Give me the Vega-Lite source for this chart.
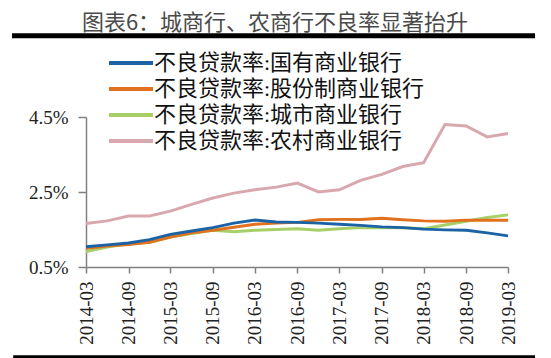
{
  "$schema": "https://vega.github.io/schema/vega-lite/v6.json",
  "width": 422,
  "height": 150,
  "autosize": {"type": "none"},
  "padding": {"left": 86, "top": 117, "right": 43, "bottom": 91},
  "background": "white",
  "title": {
    "text": "图表6：城商行、农商行不良率显著抬升",
    "font": "Noto Sans CJK SC",
    "fontSize": 22,
    "fontWeight": "normal",
    "color": "#4a4a4a",
    "anchor": "middle",
    "frame": "group",
    "offset": -2,
    "dx": -22
  },
  "config": {"view": {"stroke": null}},
  "layer": [
    {
      "data": {
        "values": [
          {"date": "2014-03-01", "国有": 1.04, "股份制": 1.00, "城市": 0.91, "农村": 1.66},
          {"date": "2014-06-01", "国有": 1.09, "股份制": 1.06, "城市": 1.03, "农村": 1.73},
          {"date": "2014-09-01", "国有": 1.14, "股份制": 1.10, "城市": 1.12, "农村": 1.86},
          {"date": "2014-12-01", "国有": 1.23, "股份制": 1.16, "城市": 1.16, "农村": 1.86},
          {"date": "2015-03-01", "国有": 1.37, "股份制": 1.30, "城市": 1.30, "农村": 1.99},
          {"date": "2015-06-01", "国有": 1.46, "股份制": 1.41, "城市": 1.39, "农村": 2.17},
          {"date": "2015-09-01", "国有": 1.55, "股份制": 1.48, "城市": 1.48, "农村": 2.34},
          {"date": "2015-12-01", "国有": 1.67, "股份制": 1.56, "城市": 1.44, "农村": 2.47},
          {"date": "2016-03-01", "国有": 1.75, "股份制": 1.64, "城市": 1.48, "农村": 2.56},
          {"date": "2016-06-01", "国有": 1.70, "股份制": 1.67, "城市": 1.50, "农村": 2.63},
          {"date": "2016-09-01", "国有": 1.69, "股份制": 1.69, "城市": 1.52, "农村": 2.74},
          {"date": "2016-12-01", "国有": 1.67, "股份制": 1.76, "城市": 1.48, "农村": 2.50},
          {"date": "2017-03-01", "国有": 1.64, "股份制": 1.77, "城市": 1.52, "农村": 2.56},
          {"date": "2017-06-01", "国有": 1.61, "股份制": 1.77, "城市": 1.55, "农村": 2.81},
          {"date": "2017-09-01", "国有": 1.57, "股份制": 1.80, "城市": 1.55, "农村": 2.97},
          {"date": "2017-12-01", "国有": 1.55, "股份制": 1.76, "城市": 1.55, "农村": 3.18},
          {"date": "2018-03-01", "国有": 1.51, "股份制": 1.73, "城市": 1.52, "农村": 3.28},
          {"date": "2018-06-01", "国有": 1.49, "股份制": 1.72, "城市": 1.62, "农村": 4.30},
          {"date": "2018-09-01", "国有": 1.48, "股份制": 1.75, "城市": 1.72, "农村": 4.26},
          {"date": "2018-12-01", "国有": 1.41, "股份制": 1.75, "城市": 1.82, "农村": 3.97},
          {"date": "2019-03-01", "国有": 1.33, "股份制": 1.75, "城市": 1.89, "农村": 4.06}
        ]
      },
      "transform": [
        {"fold": ["农村", "城市", "股份制", "国有"], "as": ["bank", "value"]},
        {"lookup": "bank", "from": {"data": {"values": [
          {"bank": "国有", "series": "不良贷款率:国有商业银行"},
          {"bank": "股份制", "series": "不良贷款率:股份制商业银行"},
          {"bank": "城市", "series": "不良贷款率:城市商业银行"},
          {"bank": "农村", "series": "不良贷款率:农村商业银行"}
        ]}, "key": "bank", "fields": ["series"]}}
      ],
      "mark": {"type": "line", "strokeWidth": 3},
      "encoding": {
        "x": {
          "field": "date",
          "type": "temporal",
          "scale": {"type": "utc", "domain": [{"year": 2014, "month": 3, "date": 1, "utc": true}, {"year": 2019, "month": 3, "date": 1, "utc": true}], "nice": false},
          "axis": {
            "title": null,
            "grid": false,
            "values": [
              {"year": 2014, "month": 3, "date": 1, "utc": true},
              {"year": 2014, "month": 9, "date": 1, "utc": true},
              {"year": 2015, "month": 3, "date": 1, "utc": true},
              {"year": 2015, "month": 9, "date": 1, "utc": true},
              {"year": 2016, "month": 3, "date": 1, "utc": true},
              {"year": 2016, "month": 9, "date": 1, "utc": true},
              {"year": 2017, "month": 3, "date": 1, "utc": true},
              {"year": 2017, "month": 9, "date": 1, "utc": true},
              {"year": 2018, "month": 3, "date": 1, "utc": true},
              {"year": 2018, "month": 9, "date": 1, "utc": true},
              {"year": 2019, "month": 3, "date": 1, "utc": true}
            ],
            "labelExpr": "utcFormat(datum.value, '%Y-%m')",
            "labelAngle": -90,
            "labelFont": "Liberation Serif",
            "labelFontSize": 19,
            "labelColor": "#222222",
            "labelPadding": 8,
            "labelFlush": false,
            "labelOverlap": false,
            "domainColor": "#808080",
            "domainWidth": 1.5,
            "tickColor": "#808080",
            "tickWidth": 1.5,
            "tickSize": 6
          }
        },
        "y": {
          "field": "value",
          "type": "quantitative",
          "scale": {"domain": [0.5, 4.5], "nice": false, "zero": false},
          "axis": {
            "title": null,
            "grid": false,
            "values": [0.5, 2.5, 4.5],
            "labelExpr": "format(datum.value, '.1f') + '%'",
            "labelFont": "Liberation Serif",
            "labelFontSize": 19,
            "labelColor": "#222222",
            "labelPadding": 10,
            "domainColor": "#808080",
            "domainWidth": 1.5,
            "tickColor": "#808080",
            "tickWidth": 1.5,
            "tickSize": 8
          }
        },
        "color": {
          "field": "series",
          "type": "nominal",
          "scale": {
            "domain": ["不良贷款率:国有商业银行", "不良贷款率:股份制商业银行", "不良贷款率:城市商业银行", "不良贷款率:农村商业银行"],
            "range": ["#1c63a6", "#e0711e", "#a6cf68", "#d8a8ae"]
          },
          "legend": {
            "title": null,
            "orient": "none",
            "legendX": 32,
            "legendY": -67,
            "symbolType": "M-2,0H2",
            "symbolSize": 484,
            "symbolStrokeWidth": 4,
            "symbolFillColor": "transparent",
            "labelFont": "Liberation Serif, Noto Sans CJK SC",
            "labelFontSize": 22,
            "labelColor": "#111111",
            "labelOffset": 10,
            "labelLimit": 400,
            "rowPadding": 2
          }
        }
      }
    },
    {
      "data": {"values": [{}]},
      "mark": {"type": "rule", "color": "black", "strokeWidth": 5},
      "encoding": {
        "x": {"datum": {"year": 2013, "month": 4, "date": 15, "utc": true}, "type": "temporal"},
        "x2": {"datum": {"year": 2019, "month": 6, "date": 26, "utc": true}},
        "y": {"datum": 6.67, "type": "quantitative"}
      }
    },
    {
      "data": {"values": [{}]},
      "mark": {"type": "rule", "color": "black", "strokeWidth": 5},
      "encoding": {
        "x": {"datum": {"year": 2013, "month": 4, "date": 20, "utc": true}, "type": "temporal"},
        "x2": {"datum": {"year": 2019, "month": 6, "date": 26, "utc": true}},
        "y": {"datum": -1.92, "type": "quantitative"}
      }
    }
  ]
}
